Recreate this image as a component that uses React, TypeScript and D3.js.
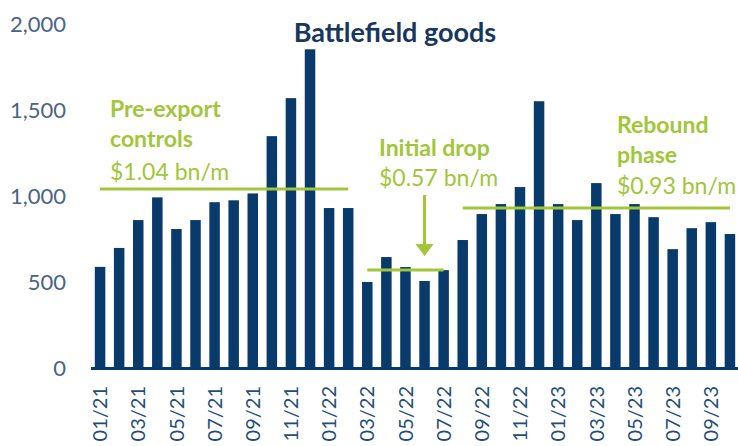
import React from "react";
import * as d3 from "d3";

const months = [
  "01/21", "02/21", "03/21", "04/21", "05/21", "06/21", "07/21", "08/21", "09/21", "10/21", "11/21", "12/21",
  "01/22", "02/22", "03/22", "04/22", "05/22", "06/22", "07/22", "08/22", "09/22", "10/22", "11/22", "12/22",
  "01/23", "02/23", "03/23", "04/23", "05/23", "06/23", "07/23", "08/23", "09/23", "10/23",
];
const values = [
  588, 698, 860, 992, 808, 860, 964, 975, 1015, 1348, 1569, 1853,
  930, 930, 500, 645, 587, 506, 569, 744, 895, 953, 1052, 1551,
  953, 860, 1075, 895, 953, 877, 691, 813, 848, 779,
];
const yTicks = [0, 500, 1000, 1500, 2000];
const phaseNames = [["Pre-export", "controls"], ["Initial drop"], ["Rebound", "phase"]];
const phaseAverages = [1040, 570, 930];
const phaseLabels = ["$1.04 bn/m", "$0.57 bn/m", "$0.93 bn/m"];
const phaseStart = ["01/21", "03/22", "08/22"];
const phaseEnd = ["02/22", "07/22", "10/23"];
const arrowMonth = "06/22";

const W = 738;
const H = 446;
const NAVY = "#083a6b";
const GREEN = "#a1c63a";
const FONT = "Lato, 'Open Sans', sans-serif";

export default function App() {
  const x = d3.scaleBand<string>().domain(months).range([91, 739]).paddingInner(0.45).paddingOuter(0.2);
  const y = d3.scaleLinear().domain([0, 2000]).range([368, 24]);
  const cx = (m: string) => (x(m) as number) + x.bandwidth() / 2;
  const fmt = d3.format(",");

  // label text layout (positions only)
  const labelLayout = [
    { x: 110, names: [117, 147], value: 180 },
    { x: 379, names: [156], value: 186 },
    { x: 617, names: [133, 163], value: 194 },
  ];

  const ax = cx(arrowMonth);

  return (
    <svg width={W} height={H} style={{ position: "absolute", left: 0, top: 0, background: "#fff" }} fontFamily={FONT}>
      <text x={395} y={42} textAnchor="middle" fontSize={27} fontWeight={700} fill="#17375e">
        Battlefield goods
      </text>
      {yTicks.map((t) => (
        <text key={t} x={66} y={y(t)} dy="0.35em" textAnchor="end" fontSize={22} fill="#4a6584">
          {fmt(t)}
        </text>
      ))}
      {months.map((m, i) => (
        <rect key={m} x={x(m)} y={y(values[i])} width={x.bandwidth()} height={y(0) - y(values[i])} fill={NAVY} />
      ))}
      <line x1={91} x2={738} y1={y(0) + 0.5} y2={y(0) + 0.5} stroke={NAVY} strokeWidth={3} />
      {months.map((m, i) =>
        i % 2 === 0 ? (
          <text
            key={m}
            transform={`translate(${cx(m)},386) rotate(-90)`}
            textAnchor="end"
            dy="0.36em"
            fontSize={20}
            fill="#1f4e79"
          >
            {m}
          </text>
        ) : null
      )}
      {phaseAverages.map((v, i) => (
        <line key={i} x1={cx(phaseStart[i])} x2={cx(phaseEnd[i])} y1={y(v)} y2={y(v)} stroke={GREEN} strokeWidth={3} />
      ))}
      {phaseNames.map((names, i) => (
        <g key={i} fill={GREEN}>
          {names.map((n, j) => (
            <text key={j} x={labelLayout[i].x} y={labelLayout[i].names[j]} fontSize={23} fontWeight={700}>
              {n}
            </text>
          ))}
          <text x={labelLayout[i].x} y={labelLayout[i].value} fontSize={23}>
            {phaseLabels[i]}
          </text>
        </g>
      ))}
      <line x1={ax} x2={ax} y1={195} y2={246} stroke={GREEN} strokeWidth={3} />
      <path d={`M${ax - 9},244 L${ax + 9},244 L${ax},256 Z`} fill={GREEN} />
    </svg>
  );
}
